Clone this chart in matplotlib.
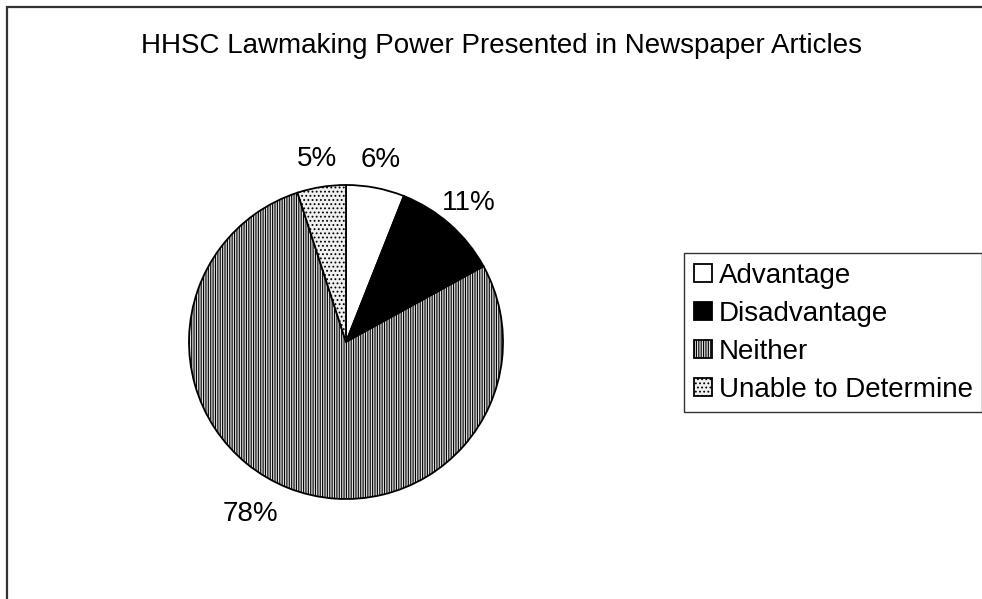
import matplotlib.pyplot as plt
from matplotlib.patches import Rectangle

plt.rcParams['font.family'] = ['Liberation Sans', 'DejaVu Sans']
plt.rcParams['hatch.linewidth'] = 0.8
plt.rcParams['hatch.color'] = '#858585'

# data
categories = ['Advantage', 'Disadvantage', 'Neither', 'Unable to Determine']
shares = [6, 11, 78, 5]
pct_labels = ['6%', '11%', '78%', '5%']

fig = plt.figure(figsize=(9.82, 5.99), dpi=100)
ax = fig.add_axes([189/982, 1 - 499/599, 314/982, 314/599])

wedges, texts = ax.pie(shares, labels=pct_labels, startangle=90, counterclock=False,
                       labeldistance=1.18,
                       wedgeprops={'edgecolor': 'black', 'linewidth': 1.3},
                       textprops={'fontsize': 20})
for t in texts:
    t.set_ha('center')
texts[2].set_ha('right')
# fills: white, black, vertical stripes, fine dots
wedges[0].set_facecolor('white')
wedges[1].set_facecolor('black')
wedges[2].set_facecolor('#e0e0e0')
wedges[2].set_hatch('|||||||')
wedges[3].set_facecolor('#f0f0f0')
wedges[3].set_hatch('....')
ax.set_xlim(-1, 1)
ax.set_ylim(-1, 1)
ax.set_aspect('equal')

fig.text(501/982, 1 - 53/599, 'HHSC Lawmaking Power Presented in Newspaper Articles',
         ha='center', va='baseline', fontsize=20)

leg = fig.legend(wedges, categories, loc='upper left',
                 bbox_to_anchor=(684/982, 1 - 253/599), fontsize=20,
                 frameon=True, fancybox=False, edgecolor='black',
                 handlelength=0.65, handleheight=0.65, handletextpad=0.25,
                 labelspacing=0.43, borderpad=0.35, borderaxespad=0)
leg.get_frame().set_linewidth(1.0)

# outer chart border (cut off at right and bottom)
fig.add_artist(Rectangle((7/982, -0.1), 1.2, 1 - 7/599 + 0.1,
                         transform=fig.transFigure, fill=False,
                         edgecolor='#333333', linewidth=1.6))

fig.savefig('out.png', dpi=100)
